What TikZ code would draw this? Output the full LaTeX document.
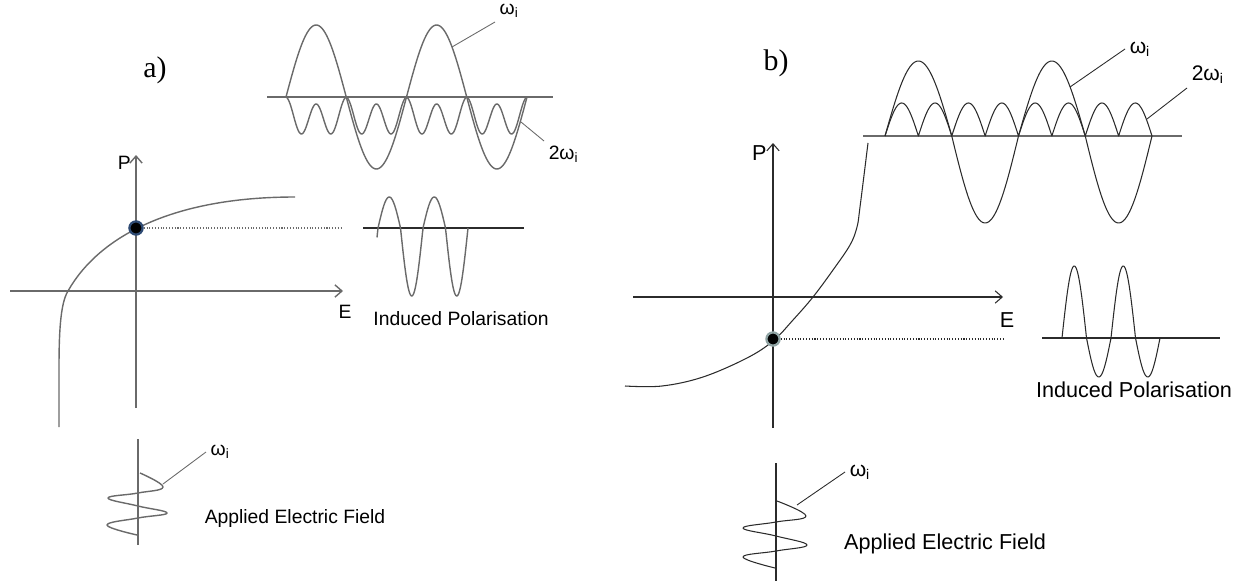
\documentclass[tikz,border=0pt]{standalone}
\usepackage{fontspec}
\setmainfont{Liberation Sans}
\newfontfamily\panelfont{Liberation Serif}
\usetikzlibrary{arrows.meta}
\definecolor{curvegrey}{HTML}{6A6A6A}
\definecolor{curvedark}{HTML}{2B2B2B}
\definecolor{rimblue}{HTML}{2E4A73}
\definecolor{rimgrey}{HTML}{8FA3A3}
\tikzset{
  axisline/.style={-{Straight Barb[length=4pt,width=7pt]}},
  linea/.style={draw=curvegrey, line width=0.8pt, line join=round},
  lineb/.style={draw=curvedark, line width=0.6pt, line join=round},
  leaderline/.style={line width=0.5pt},
  guideline/.style={densely dotted, line width=0.6pt},
  pointdot/.style={circle, fill=black, inner sep=0pt, minimum size=7.5pt, line width=1.3pt},
  texta/.style={inner sep=0pt, font=\fontsize{11}{13}\selectfont},
  textb/.style={inner sep=0pt, font=\fontsize{12.3}{14}\selectfont},
  wlabela/.style={inner sep=2.5pt, font=\fontsize{11}{13}\selectfont},
  wlabelb/.style={inner sep=2.5pt, font=\fontsize{12}{14}\selectfont},
  paneltag/.style={inner sep=0pt, font=\panelfont\fontsize{17}{19}\selectfont}
}

\begin{document}
\begin{tikzpicture}[x=0.02cm, y=-0.02cm]
    \useasboundingbox (0,0) rectangle (1244,581);

    % a)
    \node[paneltag] (taga) at (155,70) {a)};
    \draw[linea, axisline] (10,291) -- (343,291);
    \draw[linea, axisline] (136,408) -- (136,155);
    \node[texta, anchor=east] (pa) at (131,163) {P};
    \node[texta] (ea) at (345,312) {E};
    \draw[linea] (59,427) -- (59,370) .. controls (59,335) and (60,304) .. (68,291)
      .. controls (98,238) and (170,197) .. (295,197);
    \node[pointdot, draw=rimblue] (dota) at (136,228) {};
    \coordinate (guidea) at (343,228);
    \draw[guideline, curvegrey] (dota) -- (guidea);

    \draw[linea] (267,97) -- (553,97);
    \draw[linea] plot[domain=286:527, samples=161] (\x, {97-72*sin(2.98755*(\x-286))});
    \draw[linea] plot[domain=286:527, samples=321] (\x, {97+16*(1-cos(11.9502*(\x-286)))+7*abs(sin(2.98755*(\x-286)))});
    \coordinate (wtipa) at (452,47);
    \node[wlabela, anchor=south west] (wlaba) at (495,22) {ω\textsubscript{i}};
    \draw[leaderline, curvegrey] (wtipa) -- (wlaba.south west);
    \coordinate (twotipa) at (521,122);
    \node[wlabela, anchor=north west] (twolaba) at (544,141) {2ω\textsubscript{i}};
    \draw[leaderline, curvegrey] (twotipa) -- (twolaba.north west);

    \draw[draw=curvedark, line width=0.6pt] (363,228) -- (524,228);
    \draw[linea] plot[domain=377:468, samples=121] (\x, {228-49.5*sin(8*(\x-378))+18.5*abs(sin(8*(\x-378)))});
    \node[texta] (inda) at (461,319) {Induced Polarisation};

    \draw[linea] (138,439) -- (138,545);
    \draw[linea] plot[smooth, tension=0.7] coordinates {(140,473) (163,487) (138,493) (108,498) (138,506) (167,513) (138,518) (107,525) (137,535)};
    \coordinate (fieldtipa) at (163,484);
    \node[wlabela, anchor=west] (fieldlaba) at (206,452) {ω\textsubscript{i}};
    \draw[leaderline, curvegrey] (fieldtipa) -- (fieldlaba.west);
    \node[texta] (appa) at (295,518) {Applied Electric Field};

    % b)
    \node[paneltag] (tagb) at (776,63) {b)};
    \draw[lineb, axisline] (633,297) -- (1003,297);
    \draw[lineb, axisline] (773,428) -- (773,143);
    \node[textb, anchor=east] (pb) at (767,153) {P};
    \node[textb] (eb) at (1007,320) {E};
    \draw[lineb] plot[smooth, tension=0.6] coordinates {(625,386) (662,386) (703,377) (747,358) (773,341) (793,320) (813,297) (833,270) (850,245) (857,227) (860,207) (868,143)};
    \node[pointdot, draw=rimgrey] (dotb) at (773,339) {};
    \coordinate (guideb) at (1003,339);
    \draw[guideline, curvedark] (dotb) -- (guideb);

    \draw[draw=curvegrey, line width=1pt] (863,136) -- (1182,136);
    \draw[lineb] plot[domain=885:1152, samples=181] (\x, {136-81*sin(2.69663*(\x-885))+6*abs(sin(2.69663*(\x-885)))});
    \draw[lineb] plot[domain=885:1152, samples=401] (\x, {136-33*abs(sin(5.39326*(\x-885)))});
    \coordinate (wtipb) at (1070,87);
    \node[wlabelb, anchor=west] (wlabb) at (1125,49) {ω\textsubscript{i}};
    \draw[leaderline, curvedark] (wtipb) -- (wlabb.west);
    \coordinate (twotipb) at (1147,119);
    \node[wlabelb, anchor=south west] (twolabb) at (1187,88) {2ω\textsubscript{i}};
    \draw[leaderline, curvedark] (twotipb) -- (twolabb.south west);

    \draw[lineb] (1042,338) -- (1220,338);
    \draw[lineb] plot[domain=1062:1160, samples=141] (\x, {338-55.5*sin(7.347*(\x-1062))-16.5*abs(sin(7.347*(\x-1062)))});
    \node[textb] (indb) at (1134,390) {Induced Polarisation};

    \draw[lineb] (776,463) -- (776,581);
    \draw[lineb] plot[smooth, tension=0.7] coordinates {(777,501) (806,516) (776,522) (743,528) (776,536) (807,545) (776,551) (743,557) (775,568)};
    \coordinate (fieldtipb) at (797,505);
    \node[wlabelb, anchor=west] (fieldlabb) at (845,472) {ω\textsubscript{i}};
    \draw[leaderline, curvedark] (fieldtipb) -- (fieldlabb.west);
    \node[textb] (appb) at (945,544) {Applied Electric Field};
  \end{tikzpicture}
\end{document}
